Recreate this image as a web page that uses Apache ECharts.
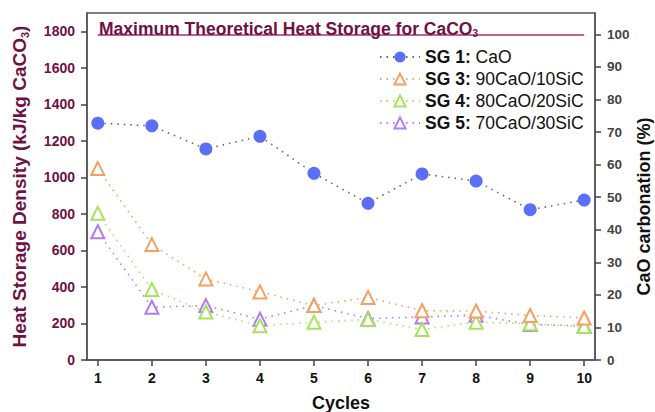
<!DOCTYPE html>
<html>
<head>
<meta charset="utf-8">
<script src="https://cdn.jsdelivr.net/npm/echarts@6/dist/echarts.min.js"></script>
<style>
  html, body { margin: 0; padding: 0; background: #fff; }
  #chart { width: 655px; height: 412px; }
</style>
</head>
<body>
<div id="chart"></div>
<script>
// cycles on the x axis
const cycles = [1, 2, 3, 4, 5, 6, 7, 8, 9, 10];

// heat storage density, kJ/kg CaCO3
const sg1 = [1297, 1282, 1156, 1225, 1022, 858, 1019, 980, 823, 876];
const sg3 = [1048, 632, 444, 373, 298, 342, 270, 268, 244, 230];
const sg4 = [803, 386, 263, 187, 207, 222, 167, 207, 198, 183];
const sg5 = [702, 289, 298, 223, 298, 227, 236, 245, 194, 187];

const seriesNames = ["SG 1: CaO", "SG 3: 90CaO/10SiC", "SG 4: 80CaO/20SiC", "SG 5: 70CaO/30SiC"];
const seriesColors = ["#5a6ff6", "#f5a063", "#a6e35c", "#b37af5"];

const theoreticalMax = 1783; // kJ/kg CaCO3 = 100 % carbonation
const leftMax = 1900;

const font = "Liberation Sans, Arial, sans-serif";
const maroon = "#6e1244";

const chart = echarts.init(document.getElementById("chart"), null, { renderer: "svg" });

function pts(arr) {
  return arr.map((v, i) => [cycles[i], v]);
}

const series = [sg1, sg3, sg4, sg5].map((arr, i) => ({
  name: seriesNames[i],
  type: "line",
  data: pts(arr),
  symbol: i === 0 ? "circle" : "triangle",
  symbolSize: 13,
  showAllSymbol: true,
  itemStyle: i === 0
    ? { color: seriesColors[0] }
    : { color: "#fff", borderColor: seriesColors[i], borderWidth: 2 },
  lineStyle: {
    color: i === 0 ? "#666" : seriesColors[i],
    type: [1.5, 5],
    width: 1.6
  },
  z: 10 - i
}));

series.push({
  type: "line",
  data: [],
  markLine: {
    silent: true,
    symbol: "none",
    label: { show: false },
    lineStyle: { color: "#a8306e", width: 1.6, type: "solid" },
    data: [[{ coord: [cycles[0], theoreticalMax] }, { coord: [cycles[cycles.length - 1], theoreticalMax] }]]
  }
});

const option = {
  animation: false,
  textStyle: { fontFamily: font },
  title: {
    text: "{t|Maximum Theoretical Heat Storage for CaCO}{s|3}",
    left: 94,
    top: 14,
    textStyle: {
      rich: {
        t: { fontFamily: font, fontWeight: "bold", fontSize: 17.5, color: maroon },
        s: { fontFamily: font, fontWeight: "bold", fontSize: 10, color: maroon, verticalAlign: "bottom", padding: [9, 0, 0, 0] }
      }
    }
  },
  legend: {
    data: seriesNames,
    orient: "vertical",
    left: 374,
    top: 43,
    itemWidth: 40,
    itemHeight: 14,
    itemGap: 4,
    formatter: (name) => {
      const parts = name.split(":");
      return "{b|" + parts[0] + ":}{n| " + parts[1].trim() + "}";
    },
    textStyle: {
      rich: {
        b: { fontFamily: font, fontWeight: "bold", fontSize: 17.5, color: "#111" },
        n: { fontFamily: font, fontSize: 17.5, color: "#111" }
      }
    }
  },
  grid: {
    left: 87, right: 60, top: 13, bottom: 52,
    outerBoundsMode: "none",
    containLabel: false,
    show: true, borderColor: "#555", borderWidth: 1.5
  },
  xAxis: {
    type: "value",
    min: 0.8,
    max: 10.2,
    name: "Cycles",
    nameLocation: "middle",
    nameGap: 34,
    nameMoveOverlap: false,
    nameTextStyle: { fontFamily: font, fontWeight: "bold", fontSize: 18, color: "#111" },
    axisLine: { lineStyle: { color: "#555", width: 1.5 } },
    axisTick: { show: true, length: 6, lineStyle: { color: "#444", width: 1.5 }, customValues: cycles },
    axisLabel: { customValues: cycles, fontFamily: font, fontWeight: "bold", fontSize: 14, color: "#111", margin: 11 },
    splitLine: { show: false }
  },
  yAxis: [
    {
      type: "value",
      min: 0,
      max: leftMax,
      interval: 200,
      name: "{a|Heat Storage Density (kJ/kg CaCO}{s|3}{a|)}",
      nameLocation: "middle",
      nameGap: 57,
      nameMoveOverlap: false,
      nameTextStyle: {
        rich: {
          a: { fontFamily: font, fontWeight: "bold", fontSize: 19, color: maroon },
          s: { fontFamily: font, fontWeight: "bold", fontSize: 11, color: maroon, verticalAlign: "bottom", padding: [11, 0, 0, 0] }
        }
      },
      axisLine: { show: true, lineStyle: { color: "#555", width: 1.5 } },
      axisTick: { show: true, length: 6, lineStyle: { color: "#444", width: 1.5 } },
      axisLabel: { formatter: (v) => String(v), fontFamily: font, fontWeight: "bold", fontSize: 14, color: maroon, margin: 12, showMaxLabel: false },
      splitLine: { show: false }
    },
    {
      type: "value",
      min: 0,
      max: leftMax / theoreticalMax * 100,
      interval: 10,
      position: "right",
      name: "CaO carbonation (%)",
      nameLocation: "middle",
      nameGap: 40,
      nameRotate: 90,
      nameMoveOverlap: false,
      nameTextStyle: { fontFamily: font, fontWeight: "bold", fontSize: 18, color: "#111", padding: [0, 40, 0, 0] },
      axisLine: { show: true, lineStyle: { color: "#555", width: 1.5 } },
      axisTick: { show: true, length: 6, lineStyle: { color: "#444", width: 1.5 } },
      axisLabel: { formatter: (v) => String(v), fontFamily: font, fontWeight: "bold", fontSize: 13.5, color: "#444", margin: 12, showMaxLabel: false },
      splitLine: { show: false }
    }
  ],
  series: series
};

chart.setOption(option);
</script>
</body>
</html>
